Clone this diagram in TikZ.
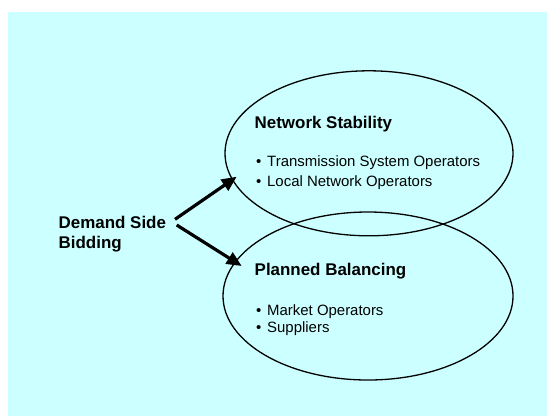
\documentclass[tikz,border=0pt]{standalone}
\usepackage{fontspec}
\setmainfont{Liberation Sans}
\usetikzlibrary{shapes.geometric,arrows.meta}
\definecolor{bg}{RGB}{204,255,255}
\begin{document}
\begin{tikzpicture}[x=1bp,y=-1bp,
  oval/.style={draw, ellipse, line width=1.3bp, inner sep=0},
  head/.style={font=\fontsize{17}{20}\selectfont\bfseries, inner sep=0, anchor=base west},
  item/.style={font=\fontsize{15}{18}\selectfont, inner sep=0, anchor=base west},
  link/.style={line width=3.2bp, -{Triangle[length=15bp,width=13bp]}}]
\useasboundingbox (0,0) rectangle (547,416);
\fill[bg] (8,12) rectangle (547,416);
\node[oval, minimum width=288bp, minimum height=165bp] (ns) at (369,153.3) {};
\node[oval, minimum width=290bp, minimum height=168bp] (pb) at (368,296) {};
\node[head] (nst) at (254.5,128.3) {Network Stability};
\node[item] (i1) at (256,166) {\makebox[11bp][l]{\textbullet}Transmission System Operators};
\node[item] (i2) at (256,186) {\makebox[11bp][l]{\textbullet}Local Network Operators};
\node[head] (pbt) at (254.5,275) {Planned Balancing};
\node[item] (i3) at (256,315) {\makebox[11bp][l]{\textbullet}Market Operators};
\node[item] (i4) at (256,332.7) {\makebox[11bp][l]{\textbullet}Suppliers};
\node[head, align=left] (dsb) at (58.5,248.3) {Demand Side\\Bidding};
\coordinate (s1) at (175,219.3);
\coordinate (t1) at (236.7,176.7);
\coordinate (s2) at (176.7,225);
\coordinate (t2) at (241.7,266);
\draw[link] (s1) -- (t1);
\draw[link] (s2) -- (t2);
\end{tikzpicture}
\end{document}
